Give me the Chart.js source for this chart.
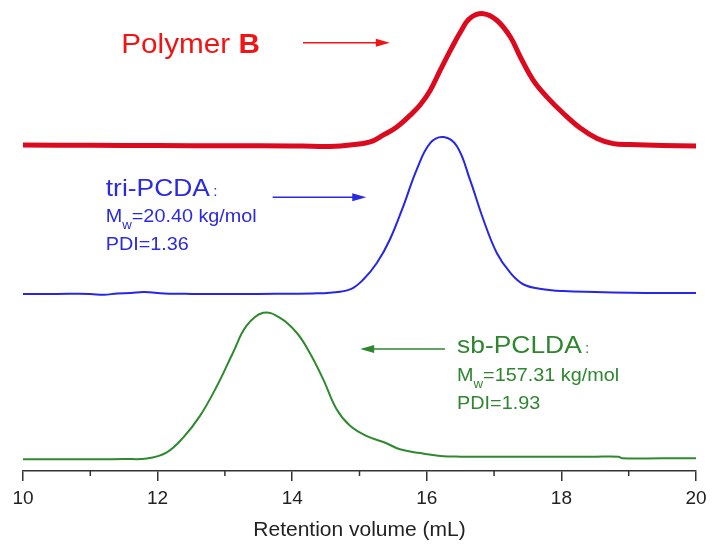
<!DOCTYPE html>
<html>
<head>
<meta charset="utf-8">
<script src="https://cdn.jsdelivr.net/npm/chart.js@4.4.1/dist/chart.umd.min.js"></script>
<style>
  body { margin: 0; background: #fff; }
  canvas { display: block; }
</style>
</head>
<body>
<canvas id="gpc" width="718" height="549"></canvas>
<script>
// GPC traces: retention volume (mL) vs detector signal (a.u.)
const redVol = [10, 11, 12, 13, 14, 14.3, 14.56, 14.86, 15.16, 15.35, 15.55, 15.75, 15.9, 16.05, 16.2, 16.35, 16.5, 16.64, 16.84, 17.04, 17.24, 17.39, 17.58, 17.78, 18.03, 18.28, 18.53, 18.77, 19.02, 19.5, 20];
const redSig = [0.3, 0.25, 0.2, 0.15, 0.1, 0.05, 0, 0.3, 1.0, 2.4, 4.1, 6.6, 8.8, 11.9, 16.2, 20.4, 24.3, 27.2, 28.2, 26.8, 23.3, 19.0, 14.1, 10.6, 7.0, 3.9, 1.7, 0.6, 0.4, 0.2, 0.1];

const blueVol = [10, 10.5, 11, 11.2, 11.4, 11.6, 11.8, 12.1, 12.5, 13, 13.5, 14, 14.3, 14.56, 14.86, 15.06, 15.26, 15.45, 15.65, 15.85, 16.05, 16.25, 16.45, 16.64, 16.84, 17.04, 17.24, 17.44, 17.73, 18.03, 18.5, 19.02, 19.5, 20];
const blueSig = [0, 0, 0, -0.2, 0.1, 0.2, 0.4, 0.1, 0, 0, 0, 0.05, 0.1, 0.25, 0.95, 3.1, 6.6, 11.5, 18.6, 26.4, 32.0, 33.3, 31.3, 24.3, 15.8, 8.7, 4.5, 2.0, 1.0, 0.6, 0.4, 0.25, 0.2, 0.2];

const greenVol = [10, 10.5, 11.14, 11.5, 11.84, 12.13, 12.38, 12.63, 12.88, 13.12, 13.32, 13.57, 13.82, 14.07, 14.26, 14.46, 14.66, 14.86, 15.11, 15.4, 15.6, 15.9, 16.2, 16.5, 17, 17.5, 18, 18.5, 18.85, 18.9, 19.5, 20];
const greenSig = [0, 0, 0, 0.05, 0.15, 1.4, 4.6, 9.2, 15.5, 22.6, 28.3, 31.1, 30.0, 26.8, 22.6, 17.0, 10.6, 7.1, 4.9, 3.4, 2.1, 1.3, 0.7, 0.55, 0.55, 0.55, 0.55, 0.55, 0.55, 0.2, 0.2, 0.2];

// vertical offsets that stack the three traces
const redShift = 68.9;
const blueShift = 37.6;
const greenShift = 2.5;

const xTicks = [10, 12, 14, 16, 18, 20];

const toPoints = (vol, sig, shift) => vol.map((v, i) => ({ x: v, y: sig[i] + shift }));

// text notes and arrows, placed in axis units
const notes = [
  { parts: [["Polymer ", "normal"], ["B", "bold"]], x: 11.46, y: 88.8, size: 27, color: "#f01414" },
  { parts: [["tri-PCDA", "normal"]], colon: true, x: 11.23, y: 58.4, size: 24, color: "#2a2ae0" },
  { mw: "=20.40 kg/mol", x: 11.23, y: 52.8, size: 18, color: "#2a2ae0" },
  { parts: [["PDI=1.36", "normal"]], x: 11.23, y: 47.0, size: 18, color: "#2a2ae0" },
  { parts: [["sb-PCLDA", "normal"]], colon: true, x: 16.45, y: 25.1, size: 24, color: "#2e862e" },
  { mw: "=157.31 kg/mol", x: 16.45, y: 19.1, size: 18, color: "#2e862e" },
  { parts: [["PDI=1.93", "normal"]], x: 16.45, y: 13.1, size: 18, color: "#2e862e" }
];
const arrows = [
  { from: [14.16, 90.9], to: [15.45, 90.9], color: "#f01414" },
  { from: [13.71, 58.1], to: [15.10, 58.1], color: "#2a2ae0" },
  { from: [16.27, 25.9], to: [15.01, 25.9], color: "#2e862e" }
];

const FONT = "Arial, 'Liberation Sans', Helvetica, sans-serif";
const STRETCH = 1.1;

const notesPlugin = {
  id: "notes",
  afterDraw(chart) {
    const { ctx, chartArea } = chart;
    const xs = chart.scales.x, ys = chart.scales.y;

    // minor ticks at odd volumes
    ctx.save();
    ctx.strokeStyle = "#333";
    ctx.lineWidth = 1.5;
    for (let v = 11; v < 20; v += 2) {
      const px = xs.getPixelForValue(v);
      ctx.beginPath();
      ctx.moveTo(px, chartArea.bottom);
      ctx.lineTo(px, chartArea.bottom + 5);
      ctx.stroke();
    }
    ctx.restore();

    arrows.forEach(a => {
      const x1 = xs.getPixelForValue(a.from[0]), y1 = ys.getPixelForValue(a.from[1]);
      const x2 = xs.getPixelForValue(a.to[0]), y2 = ys.getPixelForValue(a.to[1]);
      const dir = Math.sign(x2 - x1);
      ctx.save();
      ctx.strokeStyle = a.color;
      ctx.fillStyle = a.color;
      ctx.lineWidth = 1.5;
      ctx.beginPath();
      ctx.moveTo(x1, y1);
      ctx.lineTo(x2 - dir * 8, y2);
      ctx.stroke();
      ctx.beginPath();
      ctx.moveTo(x2, y2);
      ctx.lineTo(x2 - dir * 14, y2 - 4);
      ctx.lineTo(x2 - dir * 14, y2 + 4);
      ctx.closePath();
      ctx.fill();
      ctx.restore();
    });

    notes.forEach(n => {
      const px = xs.getPixelForValue(n.x), py = ys.getPixelForValue(n.y);
      ctx.save();
      ctx.translate(px, py);
      ctx.scale(STRETCH, 1);
      ctx.fillStyle = n.color;
      ctx.textBaseline = "alphabetic";
      let cx = 0;
      if (n.mw) {
        ctx.font = `${n.size}px ${FONT}`;
        ctx.fillText("M", cx, 0);
        cx += ctx.measureText("M").width;
        ctx.font = `${Math.round(n.size * 0.65)}px ${FONT}`;
        ctx.fillText("w", cx, 7);
        cx += ctx.measureText("w").width;
        ctx.font = `${n.size}px ${FONT}`;
        ctx.fillText(n.mw, cx, 0);
      } else {
        n.parts.forEach(([t, w]) => {
          ctx.font = `${w} ${n.size}px ${FONT}`;
          ctx.fillText(t, cx, 0);
          cx += ctx.measureText(t).width;
        });
        if (n.colon) {
          ctx.font = `${Math.round(n.size * 0.6)}px ${FONT}`;
          ctx.fillText(":", cx + 3, 0);
        }
      }
      ctx.restore();
    });
  }
};

const ctx = document.getElementById("gpc").getContext("2d");
new Chart(ctx, {
  type: "line",
  data: {
    datasets: [
      { label: "Polymer B", data: toPoints(redVol, redSig, redShift), borderColor: "#dc0a1e", borderWidth: 5 },
      { label: "tri-PCDA", data: toPoints(blueVol, blueSig, blueShift), borderColor: "#2626e6", borderWidth: 2 },
      { label: "sb-PCLDA", data: toPoints(greenVol, greenSig, greenShift), borderColor: "#2f8a2f", borderWidth: 2 }
    ]
  },
  options: {
    responsive: false,
    animation: false,
    events: [],
    layout: { padding: { left: 23, right: 22, top: 0, bottom: 6 } },
    elements: {
      point: { radius: 0 },
      line: { tension: 0.4, fill: false, borderCapStyle: "round", borderJoinStyle: "round" }
    },
    plugins: { legend: { display: false }, tooltip: { enabled: false } },
    scales: {
      x: {
        type: "linear",
        min: 10,
        max: 20,
        border: { display: true, color: "#333", width: 1.5 },
        grid: {
          drawOnChartArea: false,
          drawTicks: true,
          tickLength: 10,
          lineWidth: 1.5,
          color: c => (xTicks.includes(c.tick.value) ? "#333" : "rgba(0,0,0,0)")
        },
        ticks: {
          stepSize: 1,
          autoSkip: false,
          maxRotation: 0,
          padding: 6,
          color: "#222",
          font: { family: FONT, size: 19 },
          callback: v => (xTicks.includes(v) ? String(v) : "")
        },
        title: {
          display: true,
          text: "Retention volume (mL)",
          color: "#222",
          font: { family: FONT, size: 21 },
          padding: { top: 2, bottom: 0 }
        }
      },
      y: { display: false, min: 0, max: 100 }
    }
  },
  plugins: [notesPlugin]
});
</script>
</body>
</html>
